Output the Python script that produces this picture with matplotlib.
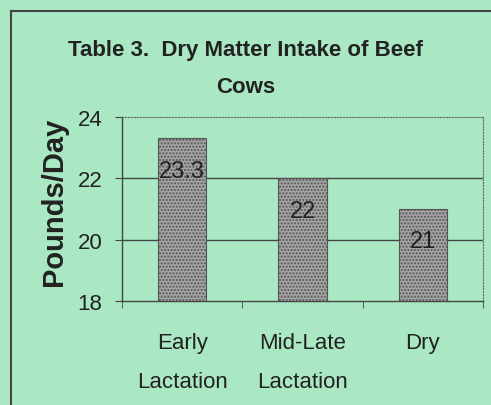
import matplotlib.pyplot as plt
from matplotlib.lines import Line2D

# Dry matter intake data
categories = ['Early\nLactation', 'Mid-Late\nLactation', 'Dry']
intake = [23.3, 22, 21]
value_labels = ['23.3', '22', '21']
y_ticks = [18, 20, 22, 24]

bg = '#a9e8c3'
font = ['Liberation Sans', 'DejaVu Sans']

fig = plt.figure(figsize=(4.91, 4.06), dpi=100, facecolor=bg)
ax = fig.add_axes([0.2485, 0.2562, 0.7352, 0.4532], facecolor=bg)

x = range(len(categories))
ax.bar(x, intake, width=0.4, bottom=0, color='#a4a4a4', edgecolor='#555555',
       linewidth=0.8, hatch='.....', zorder=3)

for i, (v, lab) in enumerate(zip(intake, value_labels)):
    ax.text(i, v - 1.05, lab, ha='center', va='center', fontsize=17,
            family=font, color='#222222', zorder=4)

ax.set_ylim(18, 24)
ax.set_xlim(-0.5, len(categories) - 0.5)
ax.set_yticks(y_ticks)
ax.set_yticklabels([str(t) for t in y_ticks], family=font, fontsize=16, color='#222222')
ax.set_xticks(list(x))
ax.set_xticklabels(categories, family=font, fontsize=16, color='#222222', linespacing=2.15)
ax.set_xticks([-0.5, 0.5, 1.5, 2.5], minor=True)
ax.tick_params(axis='x', which='major', length=0, pad=22)
ax.tick_params(axis='x', which='minor', length=5, direction='out', color='#444444')
ax.tick_params(axis='y', length=5, direction='out', pad=9, color='#444444')

for yv in [20, 22]:
    ax.axhline(yv, color='#444444', linewidth=1.0, zorder=1)

for side in ['left', 'bottom']:
    ax.spines[side].set_color('#444444')
    ax.spines[side].set_linewidth(1.0)
for side in ['top', 'right']:
    ax.spines[side].set_color('#666666')
    ax.spines[side].set_linewidth(0.8)
    ax.spines[side].set_linestyle(':')

ax.set_ylabel('Pounds/Day', fontsize=21, fontweight='bold', family=font,
              color='#222222')
ax.yaxis.set_label_coords(-0.15, 0.545)

fig.text(0.5, 1 - 69 / 406, 'Table 3.  Dry Matter Intake of Beef\nCows', ha='center',
         va='center', fontsize=16, fontweight='bold', family=font,
         color='#222222', linespacing=2.0)

# outer frame
fy = 1 - 12 / 406
fx = 11 / 491
fig.add_artist(Line2D([fx, fx], [0, fy], color='#444444', linewidth=1.5))
fig.add_artist(Line2D([fx, 1], [fy, fy], color='#444444', linewidth=1.5))

plt.savefig('out.png', dpi=100, facecolor=bg)
